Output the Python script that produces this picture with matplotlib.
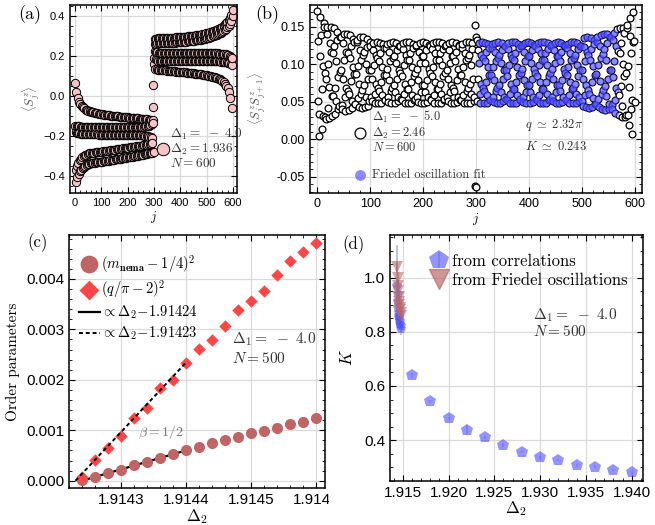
import numpy as np
import matplotlib
matplotlib.use("Agg")
import matplotlib.pyplot as plt
from matplotlib.ticker import AutoMinorLocator, FormatStrFormatter, MultipleLocator
from matplotlib.patches import Rectangle

plt.rcParams['font.family'] = 'Liberation Sans'
plt.rcParams['mathtext.fontset'] = 'cm'
plt.rcParams['axes.unicode_minus'] = True
SERIF = 'cmr10'

# ---------------- (a) local magnetisation, period-5 branches ----------------
# left half (j = r, r+5, ..., r+295) and right half (j = 300+r, ..., 595+r)
sz_left = [
    [0.065, 0.019, -0.011, -0.030, -0.041, -0.049, -0.057, -0.062, -0.068, -0.071,
     -0.074, -0.077, -0.078, -0.080, -0.082, -0.084, -0.086, -0.087, -0.089, -0.090,
     -0.091, -0.092, -0.093, -0.094, -0.095, -0.096, -0.097, -0.098, -0.099, -0.099,
     -0.100, -0.101, -0.102, -0.102, -0.103, -0.104, -0.104, -0.105, -0.106, -0.106,
     -0.107, -0.108, -0.108, -0.109, -0.109, -0.110, -0.111, -0.111, -0.112, -0.113,
     -0.113, -0.114, -0.115, -0.115, -0.116, -0.117, -0.118, -0.119, -0.120, -0.121],
    [-0.148, -0.150, -0.151, -0.152, -0.153, -0.154, -0.154, -0.155, -0.155, -0.155,
     -0.156, -0.156, -0.156, -0.156, -0.156, -0.157, -0.157, -0.157, -0.157, -0.157,
     -0.157, -0.157, -0.157, -0.157, -0.157, -0.157, -0.157, -0.157, -0.157, -0.157,
     -0.157, -0.157, -0.157, -0.157, -0.157, -0.157, -0.157, -0.157, -0.156, -0.156,
     -0.156, -0.156, -0.156, -0.156, -0.156, -0.155, -0.155, -0.155, -0.155, -0.154,
     -0.154, -0.153, -0.153, -0.152, -0.151, -0.150, -0.148, -0.146, -0.142, -0.135],
    [-0.180, -0.183, -0.185, -0.187, -0.188, -0.189, -0.190, -0.190, -0.191, -0.191,
     -0.191, -0.192, -0.192, -0.192, -0.192, -0.192, -0.192, -0.192, -0.193, -0.193,
     -0.193, -0.193, -0.193, -0.193, -0.193, -0.193, -0.193, -0.193, -0.193, -0.193,
     -0.193, -0.193, -0.193, -0.193, -0.193, -0.193, -0.193, -0.193, -0.193, -0.193,
     -0.193, -0.193, -0.193, -0.193, -0.194, -0.194, -0.194, -0.194, -0.195, -0.195,
     -0.196, -0.197, -0.198, -0.199, -0.200, -0.202, -0.204, -0.207, -0.212, -0.053],
    [-0.370, -0.349, -0.334, -0.322, -0.314, -0.307, -0.301, -0.297, -0.293, -0.290,
     -0.287, -0.286, -0.285, -0.283, -0.283, -0.282, -0.281, -0.280, -0.280, -0.279,
     -0.278, -0.277, -0.276, -0.275, -0.274, -0.273, -0.272, -0.271, -0.270, -0.269,
     -0.268, -0.267, -0.266, -0.265, -0.264, -0.263, -0.262, -0.261, -0.260, -0.259,
     -0.258, -0.257, -0.256, -0.255, -0.254, -0.253, -0.252, -0.251, -0.250, -0.249,
     -0.248, -0.247, -0.245, -0.244, -0.243, -0.241, -0.240, -0.238, -0.237, 0.055],
    [-0.430, -0.407, -0.390, -0.377, -0.368, -0.360, -0.354, -0.349, -0.345, -0.342,
     -0.339, -0.337, -0.335, -0.334, -0.333, -0.332, -0.332, -0.331, -0.330, -0.329,
     -0.328, -0.327, -0.326, -0.325, -0.324, -0.323, -0.322, -0.320, -0.319, -0.318,
     -0.317, -0.316, -0.315, -0.314, -0.313, -0.311, -0.310, -0.309, -0.308, -0.307,
     -0.306, -0.305, -0.304, -0.303, -0.302, -0.301, -0.299, -0.298, -0.297, -0.296,
     -0.295, -0.294, -0.292, -0.291, -0.289, -0.287, -0.286, -0.284, -0.283, -0.281],
]
sz_right = [
    [0.158, 0.135, 0.133, 0.132, 0.131, 0.131, 0.130, 0.129, 0.128, 0.128,
     0.127, 0.126, 0.126, 0.125, 0.124, 0.124, 0.123, 0.122, 0.122, 0.121,
     0.120, 0.120, 0.119, 0.118, 0.118, 0.117, 0.116, 0.115, 0.115, 0.114,
     0.113, 0.112, 0.111, 0.111, 0.110, 0.109, 0.108, 0.107, 0.106, 0.104,
     0.103, 0.102, 0.100, 0.099, 0.097, 0.095, 0.093, 0.091, 0.089, 0.086,
     0.083, 0.080, 0.074, 0.068, 0.060, 0.052, 0.040, 0.020, -0.012, -0.060],
    [0.190, 0.183, 0.179, 0.177, 0.176, 0.175, 0.175, 0.174, 0.174, 0.174,
     0.174, 0.173, 0.173, 0.173, 0.173, 0.173, 0.173, 0.173, 0.173, 0.173,
     0.173, 0.173, 0.173, 0.173, 0.173, 0.173, 0.173, 0.173, 0.173, 0.173,
     0.173, 0.173, 0.173, 0.173, 0.173, 0.173, 0.173, 0.173, 0.173, 0.173,
     0.173, 0.173, 0.173, 0.173, 0.173, 0.173, 0.173, 0.173, 0.173, 0.173,
     0.173, 0.172, 0.172, 0.171, 0.170, 0.169, 0.167, 0.165, 0.162, 0.157],
    [0.226, 0.221, 0.218, 0.216, 0.215, 0.214, 0.214, 0.214, 0.213, 0.213,
     0.213, 0.213, 0.213, 0.213, 0.213, 0.213, 0.213, 0.213, 0.213, 0.213,
     0.213, 0.213, 0.213, 0.213, 0.213, 0.213, 0.213, 0.213, 0.213, 0.213,
     0.213, 0.213, 0.213, 0.213, 0.213, 0.213, 0.213, 0.213, 0.213, 0.213,
     0.213, 0.213, 0.213, 0.213, 0.213, 0.213, 0.213, 0.213, 0.213, 0.212,
     0.212, 0.211, 0.211, 0.210, 0.209, 0.207, 0.205, 0.202, 0.197, 0.190],
    [0.262, 0.262, 0.263, 0.263, 0.263, 0.264, 0.264, 0.264, 0.265, 0.265,
     0.266, 0.266, 0.266, 0.267, 0.267, 0.267, 0.268, 0.268, 0.268, 0.269,
     0.270, 0.270, 0.271, 0.271, 0.272, 0.273, 0.273, 0.274, 0.275, 0.276,
     0.277, 0.278, 0.279, 0.280, 0.281, 0.282, 0.283, 0.284, 0.286, 0.288,
     0.290, 0.292, 0.294, 0.296, 0.298, 0.300, 0.303, 0.306, 0.309, 0.313,
     0.317, 0.321, 0.326, 0.331, 0.337, 0.344, 0.352, 0.362, 0.375, 0.398],
    [0.287, 0.287, 0.288, 0.288, 0.288, 0.289, 0.289, 0.289, 0.290, 0.290,
     0.291, 0.291, 0.291, 0.292, 0.292, 0.292, 0.293, 0.293, 0.293, 0.294,
     0.295, 0.295, 0.296, 0.296, 0.297, 0.298, 0.298, 0.299, 0.300, 0.301,
     0.302, 0.303, 0.304, 0.305, 0.306, 0.307, 0.308, 0.309, 0.311, 0.313,
     0.315, 0.317, 0.319, 0.321, 0.323, 0.325, 0.328, 0.331, 0.334, 0.338,
     0.342, 0.347, 0.352, 0.358, 0.364, 0.371, 0.380, 0.391, 0.405, 0.428],
]

# ---------------- (b) nearest-neighbour correlation, j = 0..599 ----------------
bond_corr = [
    0.171, 0.131, 0.051, 0.005, 0.034, 0.111, 0.163, 0.139, 0.067, 0.014, 0.031, 0.098, 0.155, 0.150, 0.089, 0.030, 0.027, 0.081, 0.141, 0.150, 0.101, 0.042, 0.028, 0.070, 0.128,
    0.150, 0.116, 0.058, 0.031, 0.058, 0.115, 0.148, 0.124, 0.069, 0.034, 0.051, 0.104, 0.143, 0.133, 0.083, 0.040, 0.044, 0.090, 0.136, 0.137, 0.093, 0.046, 0.041, 0.080, 0.129,
    0.140, 0.106, 0.057, 0.038, 0.068, 0.117, 0.141, 0.115, 0.065, 0.039, 0.060, 0.108, 0.139, 0.124, 0.078, 0.042, 0.051, 0.096, 0.134, 0.130, 0.087, 0.047, 0.047, 0.087, 0.130,
    0.133, 0.098, 0.055, 0.043, 0.074, 0.119, 0.136, 0.106, 0.061, 0.042, 0.066, 0.112, 0.136, 0.117, 0.072, 0.043, 0.057, 0.101, 0.134, 0.123, 0.080, 0.045, 0.051, 0.092, 0.130,
    0.125, 0.092, 0.056, 0.051, 0.081, 0.119, 0.129, 0.099, 0.061, 0.049, 0.074, 0.113, 0.130, 0.109, 0.069, 0.048, 0.065, 0.104, 0.129, 0.115, 0.076, 0.049, 0.059, 0.097, 0.127,
    0.122, 0.086, 0.053, 0.053, 0.086, 0.122, 0.127, 0.094, 0.057, 0.050, 0.079, 0.117, 0.129, 0.104, 0.065, 0.048, 0.069, 0.109, 0.130, 0.111, 0.072, 0.048, 0.063, 0.102, 0.129,
    0.119, 0.081, 0.051, 0.056, 0.092, 0.125, 0.125, 0.089, 0.054, 0.052, 0.084, 0.121, 0.128, 0.099, 0.061, 0.049, 0.074, 0.113, 0.130, 0.106, 0.067, 0.048, 0.067, 0.106, 0.130,
    0.115, 0.076, 0.049, 0.059, 0.097, 0.127, 0.122, 0.084, 0.052, 0.054, 0.089, 0.124, 0.126, 0.094, 0.057, 0.050, 0.079, 0.117, 0.129, 0.102, 0.063, 0.048, 0.072, 0.111, 0.130,
    0.111, 0.072, 0.048, 0.063, 0.102, 0.129, 0.119, 0.079, 0.050, 0.057, 0.094, 0.126, 0.124, 0.089, 0.054, 0.052, 0.084, 0.121, 0.128, 0.097, 0.059, 0.049, 0.076, 0.115, 0.130,
    0.106, 0.067, 0.048, 0.067, 0.106, 0.130, 0.115, 0.074, 0.049, 0.061, 0.099, 0.128, 0.121, 0.084, 0.052, 0.054, 0.089, 0.124, 0.126, 0.092, 0.056, 0.051, 0.081, 0.119, 0.129,
    0.102, 0.063, 0.048, 0.072, 0.111, 0.130, 0.111, 0.069, 0.048, 0.065, 0.104, 0.129, 0.117, 0.079, 0.050, 0.057, 0.094, 0.126, 0.124, 0.086, 0.053, 0.053, 0.086, 0.122, 0.127,
    0.097, 0.059, 0.049, 0.076, 0.115, 0.130, 0.106, 0.065, 0.048, 0.069, 0.109, 0.130, 0.113, 0.074, 0.049, 0.061, 0.099, 0.128, 0.121, 0.081, 0.051, 0.056, -0.062, 0.153, -0.064,
    0.137, 0.133, 0.051, 0.081, 0.119, 0.129, 0.102, 0.061, 0.049, 0.074, 0.113, 0.130, 0.109, 0.069, 0.048, 0.065, 0.104, 0.129, 0.117, 0.076, 0.049, 0.059, 0.097, 0.127, 0.122,
    0.086, 0.053, 0.053, 0.086, 0.122, 0.127, 0.097, 0.057, 0.050, 0.079, 0.117, 0.129, 0.104, 0.065, 0.048, 0.069, 0.109, 0.130, 0.113, 0.072, 0.048, 0.063, 0.102, 0.129, 0.119,
    0.081, 0.051, 0.056, 0.092, 0.125, 0.125, 0.092, 0.054, 0.052, 0.084, 0.121, 0.128, 0.099, 0.061, 0.049, 0.074, 0.113, 0.130, 0.109, 0.067, 0.048, 0.067, 0.106, 0.130, 0.115,
    0.076, 0.049, 0.059, 0.097, 0.127, 0.122, 0.086, 0.052, 0.054, 0.089, 0.124, 0.126, 0.094, 0.057, 0.050, 0.079, 0.117, 0.129, 0.104, 0.063, 0.048, 0.072, 0.111, 0.130, 0.111,
    0.072, 0.048, 0.063, 0.102, 0.129, 0.119, 0.081, 0.050, 0.057, 0.094, 0.126, 0.124, 0.089, 0.054, 0.052, 0.084, 0.121, 0.128, 0.099, 0.059, 0.049, 0.076, 0.115, 0.130, 0.106,
    0.067, 0.048, 0.067, 0.106, 0.130, 0.115, 0.076, 0.049, 0.061, 0.099, 0.128, 0.121, 0.084, 0.052, 0.054, 0.089, 0.124, 0.126, 0.094, 0.056, 0.051, 0.081, 0.119, 0.129, 0.102,
    0.063, 0.048, 0.072, 0.111, 0.130, 0.111, 0.072, 0.048, 0.065, 0.104, 0.129, 0.117, 0.079, 0.050, 0.057, 0.094, 0.126, 0.124, 0.089, 0.053, 0.053, 0.086, 0.122, 0.127, 0.097,
    0.059, 0.049, 0.076, 0.115, 0.130, 0.106, 0.067, 0.048, 0.069, 0.109, 0.130, 0.113, 0.074, 0.049, 0.061, 0.099, 0.128, 0.121, 0.084, 0.051, 0.056, 0.092, 0.125, 0.125, 0.092,
    0.051, 0.045, 0.080, 0.123, 0.135, 0.104, 0.059, 0.043, 0.072, 0.117, 0.136, 0.112, 0.066, 0.042, 0.061, 0.106, 0.135, 0.121, 0.077, 0.043, 0.055, 0.098, 0.133, 0.127, 0.086,
    0.047, 0.047, 0.087, 0.130, 0.136, 0.099, 0.054, 0.043, 0.078, 0.124, 0.139, 0.108, 0.061, 0.040, 0.066, 0.114, 0.141, 0.120, 0.071, 0.039, 0.058, 0.106, 0.140, 0.128, 0.080,
    0.041, 0.047, 0.093, 0.137, 0.137, 0.093, 0.046, 0.041, 0.083, 0.132, 0.142, 0.104, 0.052, 0.035, 0.069, 0.124, 0.147, 0.118, 0.063, 0.032, 0.059, 0.115, 0.149, 0.128, 0.071,
    0.030, 0.044, 0.101, 0.149, 0.142, 0.085, 0.030, 0.032, 0.089, 0.148, 0.153, 0.098, 0.033, 0.019, 0.070, 0.138, 0.162, 0.115, 0.040, 0.007, 0.052, 0.130, 0.169, 0.131, 0.050,
]
FIT_START, FIT_STOP = 305, 566

# ---------------- (c) order parameters near the transition ----------------
delta2_c = [1.91424, 1.91426, 1.91428, 1.91430, 1.91432, 1.91434, 1.91436,
            1.91438, 1.91440, 1.91442, 1.91444, 1.91446, 1.91448, 1.91450,
            1.91452, 1.91454, 1.91456, 1.91458, 1.91460]
m_nema_sq = [0.00001, 0.00008, 0.00015, 0.00021, 0.00031, 0.00038, 0.00046,
             0.00052, 0.00060, 0.00067, 0.00074, 0.00081, 0.00087, 0.00094,
             0.00099, 0.00105, 0.00112, 0.00117, 0.00124]
q_sq = [0.00008, 0.00042, 0.00064, 0.00089, 0.00125, 0.00145, 0.00183,
        0.00200, 0.00233, 0.00261, 0.00279, 0.00307, 0.00339, 0.00357,
        0.00376, 0.00407, 0.00436, 0.00454, 0.00472]
# linear fits: slope * (Delta_2 - critical point), drawn over the fit window
fit_m = (3.75, 1.91424, 1.91440)
fit_q = (13.76, 1.91423, 1.91440)

# ---------------- (d) Luttinger parameter ----------------
delta2_d = [1.916, 1.918, 1.920, 1.922, 1.924, 1.926, 1.928, 1.930, 1.932,
            1.934, 1.936, 1.938, 1.940]
K_corr = [0.640, 0.544, 0.480, 0.437, 0.410, 0.382, 0.357, 0.336, 0.326,
          0.307, 0.302, 0.289, 0.281]
K_corr_err = [0.008, 0.006, 0.006, 0.018, 0.006, 0.008, 0.006, 0.006, 0.005,
              0.005, 0.006, 0.005, 0.005]
delta2_near = [1.91440, 1.91444, 1.91448, 1.91452, 1.91456, 1.91460,
               1.91464, 1.91468, 1.91472, 1.91476, 1.91480]
K_corr_near = [0.97, 0.94, 0.91, 0.89, 0.87, 0.86, 0.85, 0.84, 0.83, 0.82, 0.81]
K_corr_near_err = [0.15, 0.05, 0.04, 0.03, 0.03, 0.02, 0.02, 0.02, 0.02, 0.02, 0.02]
K_fried_near = [1.04, 1.00, 0.97, 0.95, 0.93, 0.91, 0.90, 0.89, 0.88, 0.87, 0.86]
K_fried_near_err = [0.02, 0.02, 0.02, 0.02, 0.02, 0.02, 0.02, 0.02, 0.02, 0.02, 0.02]


def style_axes(ax, labelsize):
    ax.tick_params(which='both', direction='in', top=True, right=True,
                   labelsize=labelsize)
    ax.tick_params(which='major', length=4, width=0.8)
    ax.tick_params(which='minor', length=2, width=0.6)
    ax.xaxis.set_minor_locator(AutoMinorLocator())
    ax.yaxis.set_minor_locator(AutoMinorLocator())
    ax.grid(True, which='major', color='#dadada', lw=0.9)
    ax.set_axisbelow(True)
    for sp in ax.spines.values():
        sp.set_linewidth(1.1)


fig = plt.figure(figsize=(6.55, 5.25), dpi=100)
ax_a = fig.add_axes([0.1069, 0.633, 0.2545, 0.3575])
ax_b = fig.add_axes([0.4733, 0.633, 0.5064, 0.3575])
ax_c = fig.add_axes([0.1053, 0.0699, 0.3908, 0.4825])
ax_d = fig.add_axes([0.5954, 0.0844, 0.3858, 0.468])

# (a)
sites = np.arange(600)
sz = np.empty(600)
for r, branch in enumerate(sz_left):
    sz[r:300:5] = branch
for r, branch in enumerate(sz_right):
    sz[300 + r::5] = branch
ax_a.scatter(sites, sz, s=36, facecolor='#f6c4c6', edgecolor='black', lw=0.7,
             label='$\\Delta_1 =\\ -\\ 4.0$\n$\\Delta_2 = 1.936$\n$N = 600$')
style_axes(ax_a, 8)
ax_a.set_xlim(-19, 614)
ax_a.set_ylim(-0.483, 0.455)
ax_a.xaxis.set_major_locator(MultipleLocator(100))
ax_a.yaxis.set_major_locator(MultipleLocator(0.2))
ax_a.set_xlabel('$j$', fontsize=9, labelpad=1)
ax_a.set_ylabel('$\\langle S^z_j\\rangle$', fontsize=9, color='#555555')
ax_a.yaxis.set_label_coords(-0.17, 0.5)
leg_a = ax_a.legend(loc='lower left', bbox_to_anchor=(0.527, 0.12), frameon=False,
                    borderpad=0, borderaxespad=0, handlelength=0.8,
                    handletextpad=0.15, markerscale=1.5, fontsize=9.5,
                    labelcolor='#333333')
for t in leg_a.get_texts():
    t.set_linespacing(1.0)

# (b)
bond = np.array(bond_corr)
ax_b.scatter(sites, bond, s=24, facecolor='white', edgecolor='black', lw=0.9,
             label='$\\Delta_1 =\\ -\\ 5.0$\n$\\Delta_2 = 2.46$\n$N = 600$',
             zorder=2)
ax_b.scatter(sites[FIT_START:FIT_STOP], bond[FIT_START:FIT_STOP], s=24,
             color=(0.25, 0.25, 1.0), alpha=0.6, lw=0,
             label='Friedel oscillation fit', zorder=3)
style_axes(ax_b, 9)
ax_b.set_xlim(-13.8, 612.6)
ax_b.set_ylim(-0.071, 0.179)
ax_b.xaxis.set_major_locator(MultipleLocator(100))
ax_b.yaxis.set_major_locator(MultipleLocator(0.05))
ax_b.yaxis.set_major_formatter(FormatStrFormatter('%.2f'))
ax_b.set_xlabel('$j$', fontsize=9, labelpad=1)
ax_b.set_ylabel('$\\langle S^z_jS^z_{j+1}\\rangle$', fontsize=9, color='#555555')
ax_b.yaxis.set_label_coords(-0.128, 0.5)
leg_b = ax_b.legend(loc='lower left', bbox_to_anchor=(0.135, 0.06), frameon=False,
                    borderpad=0, borderaxespad=0, handlelength=0.8,
                    handletextpad=0.6, markerscale=1.6, fontsize=9,
                    labelspacing=1.2, labelcolor='#333333')
leg_b.get_texts()[0].set_linespacing(1.05)
for t in leg_b.get_texts()[1:]:
    t.set_fontfamily(SERIF)
ax_b.text(392, 0.019, '$q\\ \\simeq\\ 2.32\\pi$', fontsize=9, color='#333333',
          va='center')
ax_b.text(392, -0.009, '$K\\ \\simeq\\ 0.243$', fontsize=9, color='#333333',
          va='center')

# (c)
xm = np.array(fit_m[1:])
xq = np.array(fit_q[1:])
ax_c.plot(xm, fit_m[0] * (xm - fit_m[1]), color='black', lw=1.6, zorder=2,
          label='$\\propto\\Delta_2\\!-\\!1.91424$')
ax_c.scatter(delta2_c, m_nema_sq, s=64, color='#bf6565', lw=0, zorder=3,
             label='$(m_{\\mathbf{nema}}-1/4)^2$')
ax_c.scatter(delta2_c, q_sq, s=40, marker='D', color='#ff4545', lw=0, zorder=3,
             label='$(q/\\pi-2)^2$')
ax_c.plot(xq, fit_q[0] * (xq - fit_q[1]), color='black', lw=1.4, ls=(0, (2, 1.5)),
          zorder=4, label='$\\propto\\Delta_2\\!-\\!1.91423$')
style_axes(ax_c, 11)
ax_c.set_xlim(1.914220, 1.914614)
ax_c.set_ylim(-0.00015, 0.00487)
ax_c.xaxis.set_major_locator(MultipleLocator(0.0001))
ax_c.xaxis.set_major_formatter(FormatStrFormatter('%.4f'))
ax_c.yaxis.set_major_locator(MultipleLocator(0.001))
ax_c.yaxis.set_major_formatter(FormatStrFormatter('%.3f'))
ax_c.set_xlabel('$\\Delta_2$', fontsize=12, labelpad=0)
ax_c.set_ylabel('Order parameters', fontsize=11, fontfamily=SERIF)
ax_c.yaxis.set_label_coords(-0.19, 0.5)
h, l = ax_c.get_legend_handles_labels()
order = [1, 2, 0, 3]
ax_c.legend([h[i] for i in order], [l[i] for i in order], loc='upper left',
            bbox_to_anchor=(0.04, 0.93), frameon=False, borderpad=0,
            borderaxespad=0, handlelength=1.4, handletextpad=0.1,
            labelspacing=0.25, markerscale=1.6, fontsize=10.5)
ax_c.text(0.637, 0.555, '$\\Delta_1 =\\ -\\ 4.0$\n$N = 500$',
          transform=ax_c.transAxes, fontsize=11, color='#333333', va='center',
          linespacing=1.25)
ax_c.text(0.27, 0.222, '$\\beta=1/2$', transform=ax_c.transAxes, fontsize=10,
          color='#777777', va='center')

# (d)
ax_d.errorbar(delta2_near, K_corr_near, yerr=K_corr_near_err, fmt='p', ms=7,
              color=(0.3, 0.3, 1.0), alpha=0.55, ecolor=(0.55, 0.55, 0.85),
              elinewidth=1.5, capsize=4, mew=0, zorder=3)
ax_d.errorbar(delta2_near, K_fried_near, yerr=K_fried_near_err, fmt='v', ms=8,
              color=(0.72, 0.42, 0.42), alpha=0.6, ecolor=(0.6, 0.35, 0.35),
              elinewidth=1.2, capsize=3, mew=0, zorder=3)
corr_far = ax_d.errorbar(delta2_d, K_corr, yerr=K_corr_err, fmt='p', ms=9,
                         color=(0.3, 0.3, 1.0), alpha=0.6, ecolor=(0.6, 0.6, 0.9),
                         elinewidth=1.2, capsize=4, mew=0, zorder=3)
fried_handle, = ax_d.plot([], [], 'v', ms=9, color=(0.72, 0.42, 0.42), alpha=0.7)
style_axes(ax_d, 11)
ax_d.set_xlim(1.91361, 1.9412)
ax_d.set_ylim(0.25, 1.158)
ax_d.xaxis.set_major_locator(MultipleLocator(0.005))
ax_d.xaxis.set_major_formatter(FormatStrFormatter('%.3f'))
ax_d.yaxis.set_major_locator(MultipleLocator(0.2))
ax_d.set_xlabel('$\\Delta_2$', fontsize=12, labelpad=0)
ax_d.set_ylabel('$K$', fontsize=12)
ax_d.yaxis.set_label_coords(-0.14, 0.5)
leg_d = ax_d.legend([corr_far, fried_handle],
                    ['from correlations', 'from Friedel oscillations'],
                    loc='upper left', bbox_to_anchor=(0.16, 0.925), frameon=False,
                    borderpad=0, borderaxespad=0, handlelength=1.0,
                    handletextpad=0.3, labelspacing=0.25, markerscale=1.6,
                    fontsize=12)
for t in leg_d.get_texts():
    t.set_fontfamily(SERIF)
ax_d.text(1.9292, 0.835, '$\\Delta_1 =\\ -\\ 4.0$\n$N = 500$', fontsize=11,
          color='#333333', va='center', linespacing=1.0)

# panel tags
fig.text(18 / 655, 1 - 15 / 525, '(a)', fontsize=13, fontfamily=SERIF, va='center')
fig.text(255 / 655, 1 - 15 / 525, '(b)', fontsize=13, fontfamily=SERIF, va='center')
fig.text(27 / 655, 1 - 243 / 525, '(c)', fontsize=12, fontfamily=SERIF, va='center')
fig.text(342 / 655, 1 - 245 / 525, '(d)', fontsize=12, fontfamily=SERIF, va='center')

# the last tick label of (c) is cut by the neighbouring panel
fig.patches.append(Rectangle((329 / 655, 10 / 525), 16 / 655, 30 / 525,
                             transform=fig.transFigure, facecolor='white',
                             edgecolor='none', zorder=10))

fig.savefig('out.png', dpi=100)
